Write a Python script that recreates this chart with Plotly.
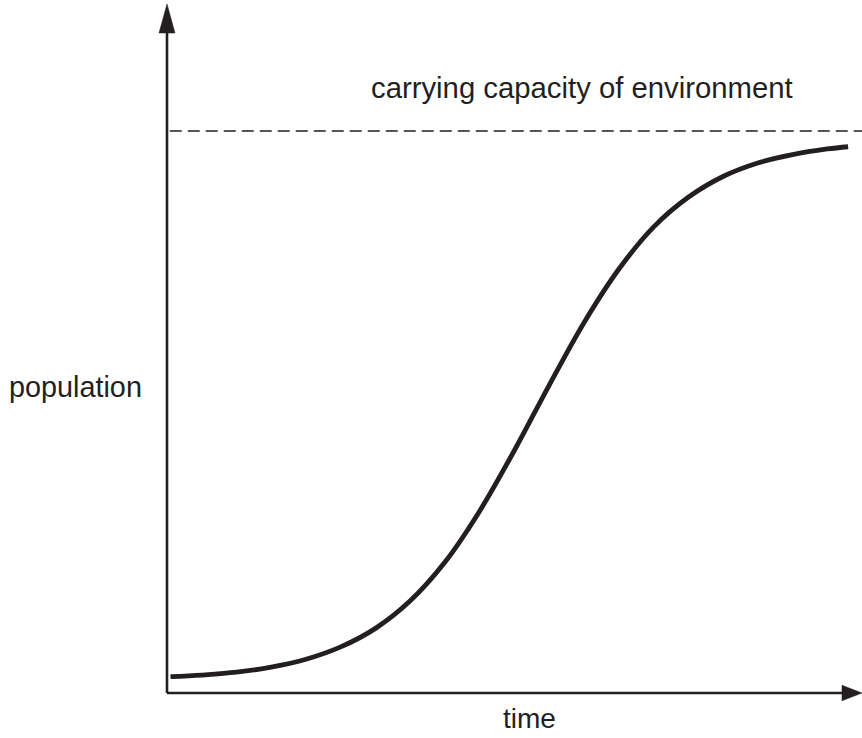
import plotly.graph_objects as go

# Values (time in arbitrary units, population with capacity = 100)
time = [0.05, 0.5, 1.0, 1.5, 2.0, 2.5, 3.0, 3.5, 4.0, 4.5, 5.0, 5.5,
        6.0, 6.5, 7.0, 7.5, 8.0, 8.5, 9.0, 9.5, 9.8]
population = [2.9, 3.2, 3.7, 4.6, 6.0, 8.2, 11.5, 16.4, 23.3, 32.4, 43.2, 54.8,
              65.9, 75.4, 82.9, 88.2, 91.9, 94.3, 95.8, 96.8, 97.2]
carrying_capacity = 100
x_range = [0, 10]
y_range = [0, 122.6]

INK = "#231f20"
FONT = "Liberation Sans, Arial, Helvetica, sans-serif"

fig = go.Figure()
fig.add_trace(go.Scatter(
    x=time, y=population, mode="lines",
    line=dict(color=INK, width=4.8, shape="spline", smoothing=1.0),
    hoverinfo="skip", showlegend=False,
))
# carrying capacity dashed line
fig.add_trace(go.Scatter(
    x=[0.04, x_range[1]], y=[carrying_capacity, carrying_capacity], mode="lines",
    line=dict(color=INK, width=1.3, dash="12px,6px"),
    hoverinfo="skip", showlegend=False,
))

shapes = [
    # y axis line
    dict(type="line", xref="paper", yref="paper", x0=0, x1=0, y0=0, y1=0.96,
         line=dict(color=INK, width=2.6)),
    # x axis line
    dict(type="line", xref="paper", yref="paper", x0=0, x1=0.973, y0=0, y1=0,
         line=dict(color=INK, width=2.6)),
    # y arrow head
    dict(type="path", xref="paper", yref="paper",
         path="M -0.0115 0.9579 L 0 1.0 L 0.0115 0.9579 Z",
         fillcolor=INK, line=dict(color=INK, width=0.5)),
    # x arrow head
    dict(type="path", xref="paper", yref="paper",
         path="M 0.9712 0.0113 L 1.0 0 L 0.9712 -0.0113 Z",
         fillcolor=INK, line=dict(color=INK, width=0.5)),
]

annotations = [
    dict(text="carrying capacity of environment", xref="paper", yref="paper",
         x=0.5978, y=0.8795, xanchor="center", yanchor="middle", showarrow=False,
         font=dict(family=FONT, size=29.3, color=INK)),
    dict(text="population", xref="paper", yref="paper",
         x=-0.1317, y=0.4441, xanchor="center", yanchor="middle", showarrow=False,
         font=dict(family=FONT, size=28.8, color=INK)),
    dict(text="time", xref="paper", yref="paper",
         x=0.5216, y=-0.0363, xanchor="center", yanchor="middle", showarrow=False,
         font=dict(family=FONT, size=28, color=INK)),
]

fig.update_layout(
    width=862, height=738,
    margin=dict(l=167, r=0, t=4, b=45),
    paper_bgcolor="white", plot_bgcolor="white",
    xaxis=dict(range=x_range, visible=False, fixedrange=True),
    yaxis=dict(range=y_range, visible=False, fixedrange=True),
    shapes=shapes, annotations=annotations,
    showlegend=False,
)

fig.write_html(
    "out.html",
    config={"displayModeBar": False},
    post_script="document.body.style.margin='0';document.body.style.overflow='hidden';",
)
